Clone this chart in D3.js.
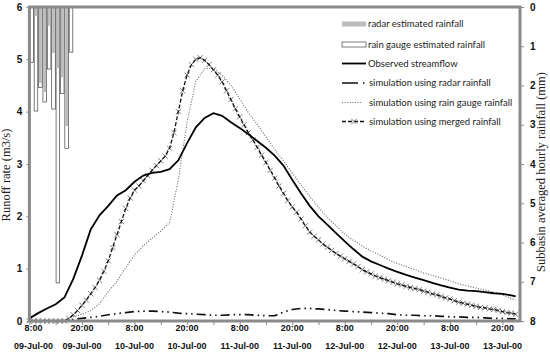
<!DOCTYPE html>
<html lang="en">
<head>
<meta charset="UTF-8"/>
<title>Runoff and subbasin rainfall</title>
<script src="https://d3js.org/d3.v7.min.js"></script>
<style>
    html, body { margin: 0; padding: 0; background: #fff; }
    svg { display: block; }
    .tick text { font-family: "Liberation Sans", Arial, sans-serif; font-weight: bold; fill: #111; }
    .legend text { font-family: Lato, "Liberation Sans", sans-serif; font-size: 9.5px; fill: #222; }
</style>
</head>
<body>
<div class="chart-container"></div>
<script>
var w = 550;
var h = 354;
var margin = {top: 7, right: 30, bottom: 33, left: 29.4};
var width = w - margin.left - margin.right;
var height = h - margin.top - margin.bottom;

var start = new Date(2000, 6, 9, 8);
var end = new Date(2000, 6, 14, 0);

// hourly rainfall (mm), first ten hours of the event
var rainHours = [0, 1, 2, 3, 4, 5, 6, 7, 8, 9];
var gaugeRain = [1.41, 2.65, 2.05, 2.42, 1.58, 2.60, 7.03, 2.20, 3.60, 1.15];
var radarRain = [0.00, 0.23, 1.94, 2.17, 0.48, 1.17, 1.56, 1.79, 3.03, 0.00];

// two-hourly series (m3/s)
var hours2 = d3.range(0, 112, 2).concat([111]);
var observed = [0.05, 0.15, 0.24, 0.32, 0.45, 0.8, 1.25, 1.75, 2.02, 2.2, 2.4, 2.5, 2.66, 2.78, 2.83, 2.85,
    2.9, 3.07, 3.4, 3.7, 3.88, 3.97, 3.92, 3.8, 3.69, 3.57, 3.44, 3.31, 3.16, 2.97, 2.7, 2.44, 2.2, 2.0,
    1.84, 1.68, 1.52, 1.37, 1.23, 1.14, 1.07, 1.0, 0.94, 0.88, 0.83, 0.78, 0.73, 0.68, 0.64, 0.6, 0.58,
    0.57, 0.55, 0.53, 0.52, 0.49, 0.47];
var simGauge = [0, 0, 0, 0, 0.02, 0.08, 0.13, 0.2, 0.33, 0.56, 0.76, 1.02, 1.26, 1.44, 1.58, 1.72,
    1.88, 2.7, 3.8, 4.58, 4.82, 4.83, 4.7, 4.5, 4.25, 3.98, 3.76, 3.52, 3.28, 3.06, 2.83, 2.6, 2.38, 2.17,
    1.98, 1.82, 1.66, 1.54, 1.43, 1.34, 1.26, 1.17, 1.1, 1.04, 0.98, 0.92, 0.87, 0.82, 0.77, 0.71, 0.67,
    0.63, 0.59, 0.55, 0.5, 0.43, 0.4];
var simRadar = [0, 0, 0, 0, 0.01, 0.03, 0.05, 0.07, 0.09, 0.12, 0.14, 0.16, 0.18, 0.19, 0.19, 0.18,
    0.17, 0.15, 0.14, 0.13, 0.12, 0.11, 0.11, 0.12, 0.12, 0.12, 0.11, 0.1, 0.1, 0.17, 0.22, 0.24, 0.24,
    0.23, 0.22, 0.2, 0.19, 0.18, 0.17, 0.16, 0.15, 0.14, 0.12, 0.11, 0.11, 0.1, 0.1, 0.09, 0.08, 0.08,
    0.07, 0.07, 0.06, 0.05, 0.05, 0.04, 0.04];

// hourly series for the merged-rainfall run (markers at every hour)
var hours1 = d3.range(0, 112);
var simMerged = [0, 0, 0, 0, 0, 0, 0, 0, 0,
    0.05, 0.12, 0.2, 0.3, 0.4, 0.52, 0.64, 0.78, 0.95, 1.15, 1.4,
    1.65, 1.9, 2.15, 2.35, 2.5, 2.58, 2.68, 2.78, 2.88, 2.97,
    3.06, 3.15, 3.3, 3.6, 4.0, 4.4, 4.7, 4.9, 5.0, 5.03,
    4.98, 4.9, 4.8, 4.7, 4.57, 4.4, 4.23, 4.06, 3.9, 3.75,
    3.6, 3.46, 3.32, 3.17, 3.03, 2.88, 2.73, 2.58, 2.44, 2.3,
    2.18, 2.08, 1.95, 1.82, 1.7, 1.62, 1.55, 1.47, 1.41, 1.35,
    1.29, 1.24, 1.19, 1.14, 1.09, 1.04, 0.98, 0.94, 0.9, 0.86,
    0.83, 0.8, 0.77, 0.74, 0.71, 0.69, 0.66, 0.64, 0.62, 0.6,
    0.57, 0.55, 0.52, 0.5, 0.47, 0.44, 0.42, 0.39, 0.36, 0.34,
    0.32, 0.3, 0.28, 0.26, 0.25, 0.23, 0.22, 0.2, 0.18, 0.16,
    0.15, 0.13];

var legendLabels = ["radar estimated rainfall", "rain gauge estimated rainfall", "Observed streamflow",
    "simulation using radar rainfall", "simulation using rain gauge rainfall", "simulation using merged rainfall"];

function t(hr) { return d3.timeHour.offset(start, hr); }

var x = d3.scaleTime().domain([start, end]).range([0, width]);
var y = d3.scaleLinear().domain([0, 6]).range([height, 0]);
var yRain = d3.scaleLinear().domain([0, 8]).range([0, height]);

var svg = d3.select(".chart-container")
    .append("svg")
    .attr("width", w)
    .attr("height", h);

var g = svg.append("g").attr("transform", "translate(" + margin.left + "," + margin.top + ")");

// rainfall bars hanging from the top
var barW = x(t(1)) - x(t(0));
g.selectAll("rect.gauge")
    .data(rainHours)
    .enter()
    .append("rect")
    .attr("class", "gauge")
    .attr("x", function(d) { return x(t(d)) + 0.4; })
    .attr("y", 0)
    .attr("width", barW - 0.8)
    .attr("height", function(d, i) { return yRain(gaugeRain[i]); })
    .attr("fill", "#fff")
    .attr("stroke", "#444")
    .attr("stroke-width", 0.7);

g.selectAll("rect.radar")
    .data(rainHours)
    .enter()
    .append("rect")
    .attr("class", "radar")
    .attr("x", function(d) { return x(t(d)) + 0.8; })
    .attr("y", 0)
    .attr("width", barW - 1.6)
    .attr("height", function(d, i) { return yRain(radarRain[i]); })
    .attr("fill", "#bdbdbd");

// lines
function lineFor(hrs) {
    return d3.line()
        .x(function(d, i) { return x(t(hrs[i])); })
        .y(function(d) { return y(d); });
}

g.append("path")
    .datum(simGauge)
    .attr("d", lineFor(hours2))
    .attr("fill", "none")
    .attr("stroke", "#666")
    .attr("stroke-width", 1.1)
    .attr("stroke-dasharray", "1,1.6");

g.append("path")
    .datum(simRadar)
    .attr("d", lineFor(hours2))
    .attr("fill", "none")
    .attr("stroke", "#111")
    .attr("stroke-width", 1.7)
    .attr("stroke-dasharray", "9,4,1.5,4,1.5,4");

var crossPath = "M-2.6,-2.6L2.6,2.6M-2.6,2.6L2.6,-2.6";
g.selectAll("path.mark")
    .data(simMerged)
    .enter()
    .append("path")
    .attr("class", "mark")
    .attr("transform", function(d, i) { return "translate(" + x(t(hours1[i])) + "," + y(d) + ")"; })
    .attr("d", crossPath)
    .attr("fill", "none")
    .attr("stroke", "#7d7d7d")
    .attr("stroke-width", 1);

g.append("path")
    .datum(simMerged)
    .attr("d", lineFor(hours1))
    .attr("fill", "none")
    .attr("stroke", "#111")
    .attr("stroke-width", 1.3)
    .attr("stroke-dasharray", "4,2");

g.append("path")
    .datum(observed)
    .attr("d", lineFor(hours2))
    .attr("fill", "none")
    .attr("stroke", "#000")
    .attr("stroke-width", 1.8);

// axes
var xTicks = g.append("g")
    .attr("transform", "translate(0," + height + ")")
    .call(d3.axisBottom(x).tickValues(d3.timeHour.range(start, end, 6)).tickSize(4).tickFormat(""));

var labelTimes = d3.timeHour.range(start, end, 12);
var xLab = g.append("g").attr("class", "tick");
xLab.selectAll("text.t1")
    .data(labelTimes)
    .enter()
    .append("text")
    .attr("x", function(d) { return x(d); })
    .attr("y", 328 - margin.top + 3)
    .attr("text-anchor", "middle")
    .attr("font-size", "9px")
    .text(d3.timeFormat("%-H:%M"));
xLab.selectAll("text.t2")
    .data(labelTimes)
    .enter()
    .append("text")
    .attr("x", function(d) { return x(d); })
    .attr("y", 346 - margin.top + 3)
    .attr("text-anchor", "middle")
    .attr("font-size", "9px")
    .text(d3.timeFormat("%d-%b-%y"));
xLab.selectAll("text").filter(function(d) { return +d === +start; }).attr("dx", 4);

var yAxis = g.append("g")
    .call(d3.axisLeft(y).ticks(6).tickSize(3).tickPadding(4));
yAxis.selectAll("text").attr("font-size", "10px");

var yAxisR = g.append("g")
    .attr("transform", "translate(" + width + ",0)")
    .call(d3.axisRight(yRain).ticks(8).tickSize(4).tickPadding(6));
yAxisR.selectAll("text").attr("font-size", "10px");

g.selectAll(".domain").remove();
g.selectAll(".tick line").attr("stroke", "#8a8a8a");

// plot frame
g.append("rect")
    .attr("width", width)
    .attr("height", height)
    .attr("fill", "none")
    .attr("stroke", "#8a8a8a")
    .attr("stroke-width", 3);

// axis titles
svg.append("text")
    .attr("transform", "translate(10,175) rotate(-90)")
    .attr("text-anchor", "middle")
    .attr("font-family", "Liberation Serif, serif")
    .attr("font-size", "12.5px")
    .attr("fill", "#222")
    .text("Runoff rate (m3/s)");

svg.append("text")
    .attr("transform", "translate(545,172) rotate(-90)")
    .attr("text-anchor", "middle")
    .attr("font-family", "Liberation Serif, serif")
    .attr("font-size", "12.5px")
    .attr("fill", "#222")
    .text("Subbasin averaged hourly rainfall (mm)");

// legend
var legend = svg.append("g").attr("class", "legend");
var rowY = [24, 44.5, 63.5, 83, 102.5, 121.5];
var sx = 342, sw = 24;

legend.append("rect").attr("x", sx).attr("y", rowY[0] - 2.5).attr("width", sw).attr("height", 5).attr("fill", "#bdbdbd");
legend.append("rect").attr("x", sx).attr("y", rowY[1] - 2.5).attr("width", sw).attr("height", 5)
    .attr("fill", "#fff").attr("stroke", "#444").attr("stroke-width", 0.7);
legend.append("line").attr("x1", sx).attr("x2", sx + sw).attr("y1", rowY[2]).attr("y2", rowY[2])
    .attr("stroke", "#000").attr("stroke-width", 1.8);
legend.append("line").attr("x1", sx).attr("x2", sx + sw).attr("y1", rowY[3]).attr("y2", rowY[3])
    .attr("stroke", "#111").attr("stroke-width", 1.7).attr("stroke-dasharray", "16,5,1.5,10");
legend.append("line").attr("x1", sx).attr("x2", sx + 20).attr("y1", rowY[4]).attr("y2", rowY[4])
    .attr("stroke", "#666").attr("stroke-width", 1.1).attr("stroke-dasharray", "1,1.6");
legend.append("line").attr("x1", sx).attr("x2", sx + sw).attr("y1", rowY[5]).attr("y2", rowY[5])
    .attr("stroke", "#111").attr("stroke-width", 1.3).attr("stroke-dasharray", "4,2");
legend.append("path").attr("transform", "translate(" + (sx + 12) + "," + rowY[5] + ")")
    .attr("d", crossPath).attr("fill", "none").attr("stroke", "#7d7d7d").attr("stroke-width", 1);

legend.selectAll("text")
    .data(legendLabels)
    .enter()
    .append("text")
    .attr("x", function(d, i) { return i < 3 ? 368 : 369; })
    .attr("y", function(d, i) { return rowY[i] + 3.3; })
    .text(function(d) { return d; });
</script>
</body>
</html>
